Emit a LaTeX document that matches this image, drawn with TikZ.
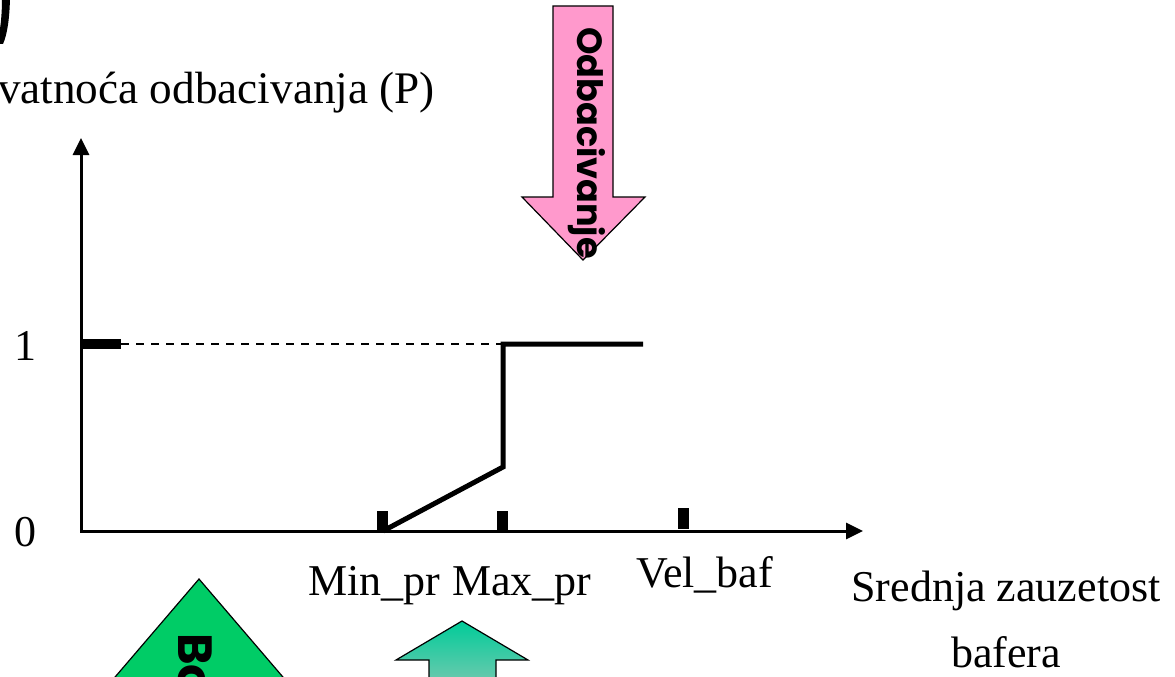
\documentclass[tikz,border=0pt]{standalone}
\usepackage{fontspec}
\setmainfont{Liberation Serif}
\newfontfamily\gothic{Poppins}
\usetikzlibrary{arrows.meta}
\definecolor{pinkfill}{RGB}{255,153,204}
\definecolor{greenfill}{RGB}{0,204,102}
\definecolor{tealtop}{RGB}{0,204,153}
\definecolor{tealbot}{RGB}{140,200,180}
\tikzset{
  lbl/.style={font=\fontsize{44}{66}\selectfont, inner sep=0pt},
  axis/.style={line width=3pt, -{Triangle[length=17pt,width=16pt]}},
  curve/.style={line width=5pt, line join=miter},
  guide/.style={line width=2.5pt, dash pattern=on 8pt off 7pt},
  tickmark/.style={fill=black},
  arrowshape/.style={draw=black, line width=1.2pt, line join=miter},
  vtext/.style={rotate=-90, inner sep=0pt, font=\gothic\bfseries\fontsize{35}{35}\selectfont}
}
\begin{document}
\begin{tikzpicture}[x=1pt,y=-1pt]
\useasboundingbox (0,0) rectangle (1175,677);
\clip (0,0) rectangle (1175,677);
% fragment of a title glyph
\fill[black] (2,-2) -- (10,-2) .. controls (9.5,20) and (7,35) .. (3,44) -- (-3,44) .. controls (0,32) and (2,18) .. (2,-2) -- cycle;
% axis label
\node[lbl, anchor=base east, font=\fontsize{45.2}{50}\selectfont] (ylab) at (435,103) {Vjerovatnoća odbacivanja (P)};
% axes
\coordinate (O) at (81,531);
\coordinate (ytip) at (81,138);
\coordinate (xtip) at (863,531);
\draw[axis] (O) -- (ytip);
\draw[axis] (80,531) -- (xtip);
% ticks
\fill[tickmark] (80,339) rectangle (121,349);
\fill[tickmark] (377,511) rectangle (388,531);
\fill[tickmark] (497,511) rectangle (508,531);
\fill[tickmark] (678,508) rectangle (689,529);
% guide and curve
\coordinate (one) at (121,344);
\coordinate (pmin) at (383,531);
\coordinate (pk) at (503,467);
\coordinate (ptop) at (503,344);
\coordinate (pend) at (643,344);
\draw[guide] (one) -- (ptop);
\draw[curve] (pmin) -- (pk) -- (ptop) -- (pend);
% value labels
\node[lbl, anchor=base] (l1) at (25,360) {1};
\node[lbl, anchor=base] (l0) at (25,546) {0};
\node[lbl, anchor=base west] (minpr) at (308,595) {Min\_pr};
\node[lbl, anchor=base west] (maxpr) at (452,595) {Max\_pr};
\node[lbl, anchor=base west] (velbaf) at (636,587) {Vel\_baf};
\node[lbl, anchor=base, align=center] (xlab) at (1006,667) {Srednja zauzetost\\bafera};
% pink arrow (down)
\path[arrowshape, fill=pinkfill] (553,6) -- (613,6) -- (613,197) -- (645,197) -- (583,260) -- (522,197) -- (553,197) -- cycle;
\node[vtext, anchor=base west] (odb) at (577,27) {Odbacivanje};
% green triangle
\path[arrowshape, fill=greenfill] (199,579) -- (330,732) -- (68,732) -- cycle;
\node[vtext, anchor=base west, font=\gothic\bfseries\fontsize{48}{48}\selectfont] (bo) at (178,633) {Bo};
% teal arrow (up)
\path[arrowshape, top color=tealtop, bottom color=tealbot] (462,621) -- (528,660) -- (496,660) -- (496,700) -- (429,700) -- (429,660) -- (396,660) -- cycle;
\end{tikzpicture}
\end{document}
